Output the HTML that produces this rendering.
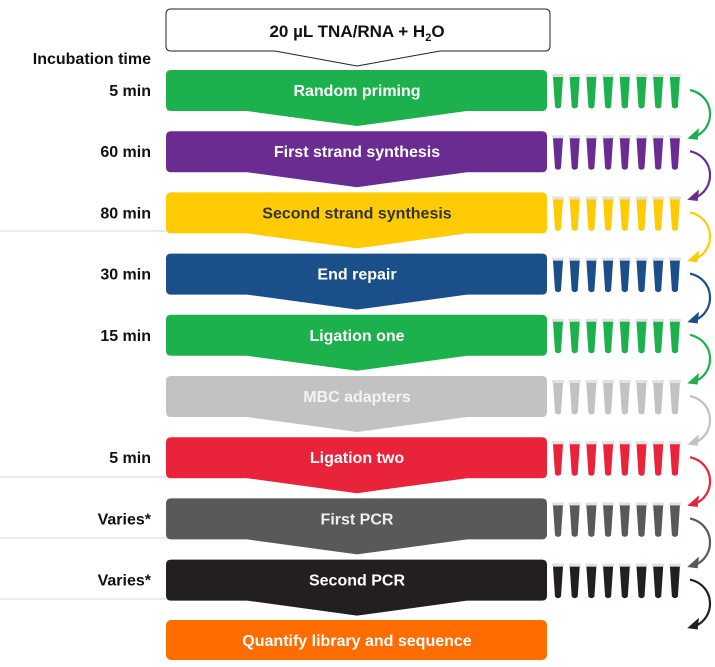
<!DOCTYPE html>
<html><head><meta charset="utf-8"><style>
body{margin:0;background:#fff;}
svg{display:block;font-family:"Liberation Sans",Arial,sans-serif;font-weight:bold;}
</style></head><body>
<svg width="715" height="667" viewBox="0 0 715 667" xmlns="http://www.w3.org/2000/svg">
<defs>
<g id="tube"><rect x="-1" y="0" width="12" height="3" fill="#e6e6e6"/></g>
</defs>
<!-- top box -->
<path d="M171,9 H545 Q550,9 550,14 V46 Q550,51 545,51 H440 L357,66 L275,51 H171 Q166,51 166,46 V14 Q166,9 171,9 Z" fill="#fff" stroke="#222" stroke-width="1"/>
<text x="357" y="37" font-size="17" text-anchor="middle" fill="#111">20 µL TNA/RNA + H<tspan font-size="11" dy="4">2</tspan><tspan dy="-4">O</tspan></text>
<text x="151" y="64" font-size="16" text-anchor="end" fill="#111">Incubation time</text>
<g stroke="#ddd" stroke-width="1.2">
<line x1="0" y1="231" x2="166" y2="231"/>
<line x1="0" y1="477" x2="166" y2="477"/>
<line x1="0" y1="538" x2="166" y2="538"/>
<line x1="0" y1="599" x2="166" y2="599"/>
</g>
<g id="rows"></g>
<!-- orange final -->
<rect x="166" y="620" width="381" height="40" rx="5" fill="#ff6c00"/>
<text x="357" y="646" font-size="16" text-anchor="middle" fill="#fff">Quantify library and sequence</text>
</svg>
<script>
var rows=[["Random priming","5 min","#1cb14c","#fff"],["First strand synthesis","60 min","#6b2c91","#fff"],["Second strand synthesis","80 min","#ffcb05","#333"],["End repair","30 min","#1b4f8a","#fff"],["Ligation one","15 min","#1cb14c","#fff"],["MBC adapters","","#c2c2c2","#f4f4f4"],["Ligation two","5 min","#e8233a","#fff"],["First PCR","Varies*","#58595b","#eee"],["Second PCR","Varies*","#231f20","#fff"]];
var ns="http://www.w3.org/2000/svg",g=document.getElementById("rows"),h="";
rows.forEach(function(r,i){
 var y=70+i*61.2,b=y+41,c=r[2];
 h+='<path d="M171,'+y+' H542 Q547,'+y+' 547,'+(y+5)+' V'+(b-5)+' Q547,'+b+' 542,'+b+' H467 L357,'+(b+15)+' L247,'+b+' H171 Q166,'+b+' 166,'+(b-5)+' V'+(y+5)+' Q166,'+y+' 171,'+y+' Z" fill="'+c+'"/>';
 h+='<text x="357" y="'+(y+26)+'" font-size="16" text-anchor="middle" fill="'+r[3]+'">'+r[0]+'</text>';
 if(r[1])h+='<text x="151" y="'+(y+26)+'" font-size="16" text-anchor="end" fill="#111">'+r[1]+'</text>';
 for(var k=0;k<8;k++){var x=553+k*16.7;
  h+='<rect x="'+(x-1)+'" y="'+(y+4)+'" width="12" height="3" fill="#e2e2e2"/>';
  h+='<path d="M'+x+','+(y+7)+' H'+(x+10)+' L'+(x+8)+','+(y+37)+' Q'+(x+5)+','+(y+40)+' '+(x+2)+','+(y+37)+' Z" fill="'+c+'"/>';}
 var sy=y+20,ey=y+67;
 h+='<path d="M690,'+sy+' C716,'+(sy+6)+' 716,'+(ey-8)+' 694,'+ey+'" fill="none" stroke="'+c+'" stroke-width="2.2"/>';
 h+='<path d="M689,'+(ey+1)+' L698,'+(ey-7)+' L697,'+(ey+2)+' Z" fill="'+c+'" stroke="'+c+'" stroke-width="1.5"/>';
});
g.innerHTML=h;
</script>
</body></html>
